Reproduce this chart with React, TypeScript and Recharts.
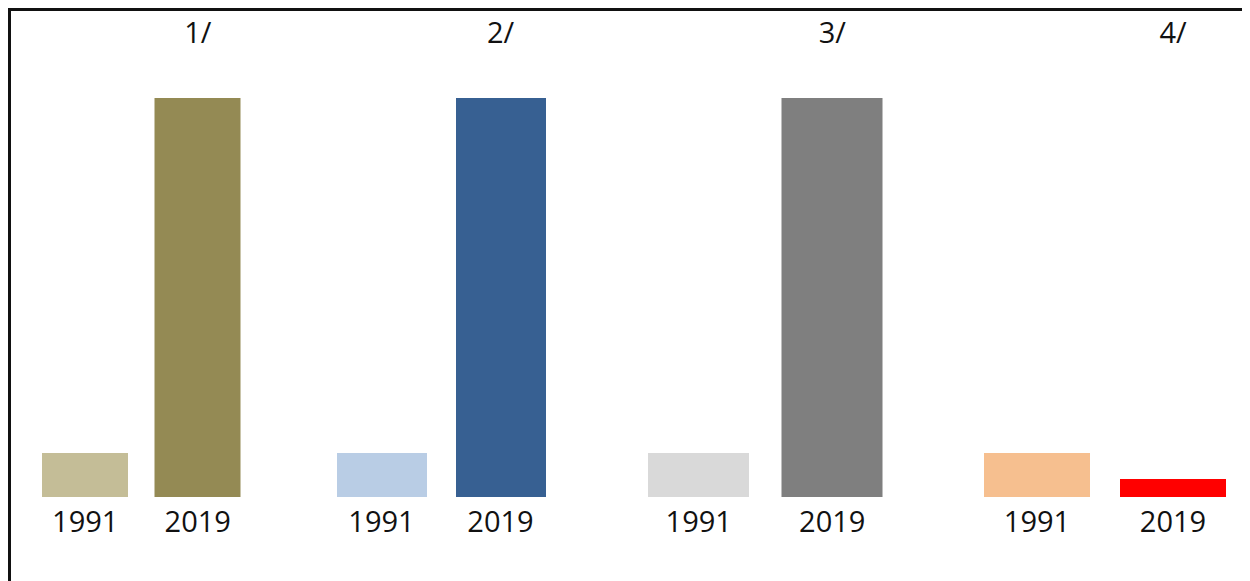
import React from 'react';
import { BarChart, Bar, XAxis, YAxis, Cell } from 'recharts';

// Years shown under each pair of bars
const categories = ['1991', '2019'];
// Heading above each pair
const groupTitles = ['1/', '2/', '3/', '4/'];
// Index values per group (1991 level = 1)
const values1991 = [1.0, 1.0, 1.0, 1.0];
const values2019 = [9.07, 9.07, 9.07, 0.41];
// Fill colours per group
const colors1991 = ['#C4BD97', '#B9CDE5', '#D9D9D9', '#F6BF8F'];
const colors2019 = ['#948A54', '#376092', '#7F7F7F', '#FF0000'];

// Horizontal placement of each group (page px) and bar widths
const groupLayout = [
  { left: 29, width: 225, barSize: 86 },
  { left: 322, width: 238, barSize: 90 },
  { left: 632, width: 267, barSize: 101 },
  { left: 969, width: 272, barSize: 106 },
];

const FONT = '"Open Sans", sans-serif';
const PAGE_OFFSET = 8;
const CHART_HEIGHT = 565;

const YearTick = (props: any) => {
  const { x, y, payload } = props;
  return (
    <text x={x} y={y} dy={27} textAnchor="middle" fontFamily={FONT} fontSize={29} fill="#111">
      {payload.value}
    </text>
  );
};

const makeTitleTick = (title: string) => (props: any) => {
  const { x, y, payload } = props;
  if (payload.value !== '2019') return <g />;
  return (
    <text x={x} y={y} dy={-6} textAnchor="middle" fontFamily={FONT} fontSize={29} fill="#111">
      {title}
    </text>
  );
};

function GroupChart({ index }: { index: number }) {
  const layout = groupLayout[index];
  const data = categories.map((year) => ({
    year,
    value: year === '1991' ? values1991[index] : values2019[index],
  }));
  const fills = [colors1991[index], colors2019[index]];
  return (
    <div style={{ position: 'absolute', left: layout.left - PAGE_OFFSET, top: 0 }}>
      <BarChart
        width={layout.width}
        height={CHART_HEIGHT}
        data={data}
        margin={{ top: 9, right: 0, bottom: 26, left: 0 }}
        barCategoryGap={0}
      >
        <XAxis
          dataKey="year"
          xAxisId="bottom"
          orientation="bottom"
          height={50}
          axisLine={false}
          tickLine={false}
          tickSize={6}
          tickMargin={2}
          interval={0}
          tick={<YearTick />}
        />
        <XAxis
          dataKey="year"
          xAxisId="top"
          orientation="top"
          height={40}
          axisLine={false}
          tickLine={false}
          tickSize={6}
          tickMargin={2}
          interval={0}
          tick={makeTitleTick(groupTitles[index])}
        />
        <YAxis hide domain={[0, 10]} />
        <Bar dataKey="value" xAxisId="bottom" barSize={layout.barSize} isAnimationActive={false}>
          {data.map((d, i) => (
            <Cell key={d.year} fill={fills[i]} />
          ))}
        </Bar>
      </BarChart>
    </div>
  );
}

export default function App() {
  return (
    <div style={{ position: 'relative', width: 1242, height: 573, overflow: 'hidden', background: '#fff' }}>
      <div
        style={{
          position: 'absolute',
          left: 0,
          top: 0,
          width: 1242,
          height: 573,
          boxSizing: 'border-box',
          borderTop: '3px solid #111',
          borderLeft: '3px solid #111',
        }}
      />
      {groupTitles.map((_, i) => (
        <GroupChart key={i} index={i} />
      ))}
    </div>
  );
}
